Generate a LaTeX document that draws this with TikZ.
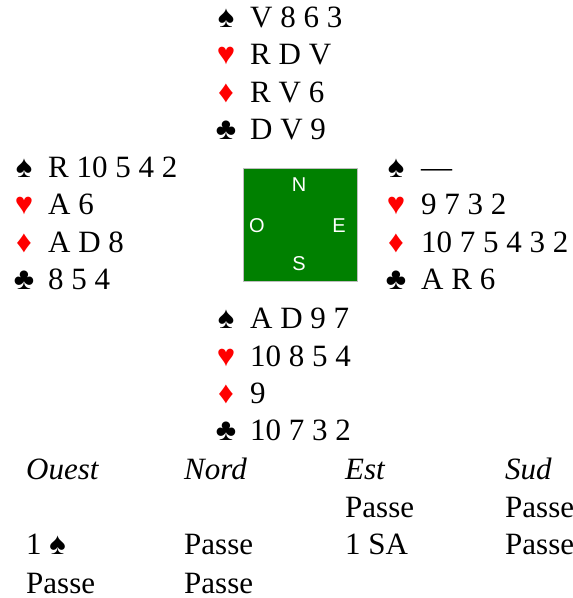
\documentclass[tikz,border=0pt]{standalone}
\usepackage{fontspec}
\setmainfont{Liberation Serif}
\newfontfamily\compfont{Liberation Sans}
\definecolor{suitred}{RGB}{255,0,0}
\definecolor{tablegreen}{RGB}{0,128,0}
\definecolor{boxborder}{RGB}{190,190,190}
\begin{document}
\begin{tikzpicture}[x=1pt,y=-1pt,
  cards/.style={anchor=base west, inner sep=0pt, font=\fontsize{31}{37}\selectfont},
  suitsym/.style={anchor=base, inner sep=0pt, font=\fontsize{31}{37}\selectfont},
  redsuit/.style={suitsym, text=suitred},
  bid/.style={anchor=base west, inner sep=0pt, font=\fontsize{31}{37}\selectfont},
  bidhead/.style={anchor=base west, inner sep=0pt, font=\fontsize{31}{37}\selectfont\itshape},
  compass/.style={inner sep=0pt, text=white, font=\compfont\fontsize{20}{24}\selectfont},
  tablebox/.style={draw=boxborder, fill=tablegreen, line width=1pt}
]
\useasboundingbox (0,0) rectangle (573,598);

% North
\node[suitsym] (ns) at (226,27) {♠};
\node[cards] (nst) at (250,27) {V 8 6 3};
\node[redsuit] (nh) at (226,64.5) {♥};
\node[cards] (nht) at (250,64.5) {R D V};
\node[redsuit] (nd) at (226,102) {♦};
\node[cards] (ndt) at (250,102) {R V 6};
\node[suitsym] (nc) at (226,139.5) {♣};
\node[cards] (nct) at (250,139.5) {D V 9};

% West
\node[suitsym] (ws) at (24,177) {♠};
\node[cards] (wst) at (48,177) {R 10 5 4 2};
\node[redsuit] (wh) at (24,214.5) {♥};
\node[cards] (wht) at (48,214.5) {A 6};
\node[redsuit] (wd) at (24,252) {♦};
\node[cards] (wdt) at (48,252) {A D 8};
\node[suitsym] (wc) at (24,289.5) {♣};
\node[cards] (wct) at (48,289.5) {8 5 4};

% East
\node[suitsym] (es) at (396,177) {♠};
\node[cards] (est) at (421,177) {—};
\node[redsuit] (eh) at (396,214.5) {♥};
\node[cards] (eht) at (421,214.5) {9 7 3 2};
\node[redsuit] (ed) at (396,252) {♦};
\node[cards] (edt) at (421,252) {10 7 5 4 3 2};
\node[suitsym] (ec) at (396,289.5) {♣};
\node[cards] (ect) at (421,289.5) {A R 6};

% South
\node[suitsym] (ss) at (226,328.5) {♠};
\node[cards] (sst) at (250,328.5) {A D 9 7};
\node[redsuit] (sh) at (226,366) {♥};
\node[cards] (sht) at (250,366) {10 8 5 4};
\node[redsuit] (sd) at (226,403) {♦};
\node[cards] (sdt) at (250,403) {9};
\node[suitsym] (sc) at (226,440.5) {♣};
\node[cards] (sct) at (250,440.5) {10 7 3 2};

% Compass
\draw[tablebox] (243.5,168) rectangle (357,281.5);
\node[compass] (cn) at (299,185) {N};
\node[compass] (co) at (257,226) {O};
\node[compass] (ce) at (339,226) {E};
\node[compass] (cs) at (299,264) {S};

% Bidding
\node[bidhead] (h1) at (26,479.5) {Ouest};
\node[bidhead] (h2) at (184,479.5) {Nord};
\node[bidhead] (h3) at (345,479.5) {Est};
\node[bidhead] (h4) at (505,479.5) {Sud};
\node[bid] (b13) at (345,517) {Passe};
\node[bid] (b14) at (505,517) {Passe};
\node[bid] (b21) at (26,554.5) {1 ♠};
\node[bid] (b22) at (184,554.5) {Passe};
\node[bid] (b23) at (345,554.5) {1 SA};
\node[bid] (b24) at (505,554.5) {Passe};
\node[bid] (b31) at (26,593) {Passe};
\node[bid] (b32) at (184,593) {Passe};
\end{tikzpicture}
\end{document}
